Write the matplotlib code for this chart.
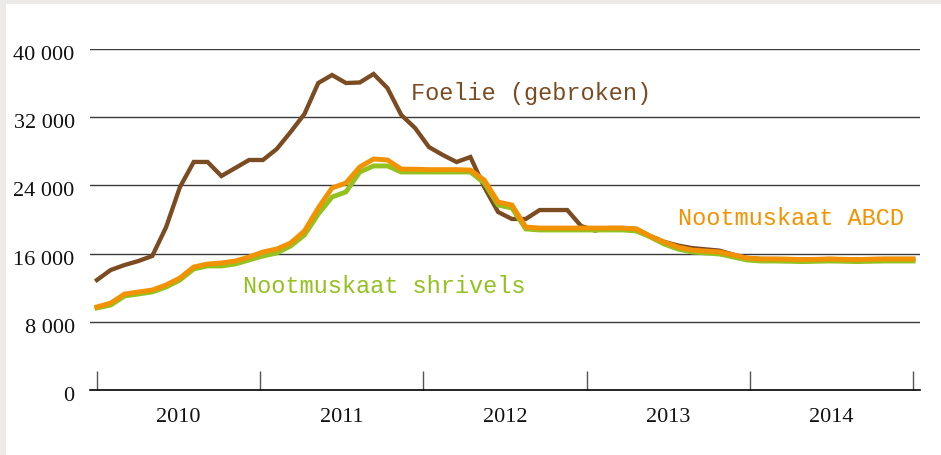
import matplotlib
matplotlib.use('Agg')
import matplotlib.pyplot as plt
import matplotlib.transforms as mtransforms
from matplotlib.patches import Rectangle


# ── palette ──────────────────────────────────────────────────────────────────

BG_OUTER = '#ebeae8'
C_BROWN  = '#7b4b22'
C_ORANGE = '#f39200'
C_GREEN  = '#94c11f'
C_GRID   = '#3a3a3a'
C_TEXT   = '#111111'


# ── data (monthly, Jan 2010 – Dec 2014) ─────────────────────────────────────

years = ['2010', '2011', '2012', '2013', '2014']
y_ticks = [0, 8000, 16000, 24000, 32000, 40000]
y_tick_labels = ['0', '8 000', '16 000', '24 000', '32 000', '40 000']

foelie = [
    12900, 14080, 14660, 15130, 15720, 19100, 23800, 26750, 26750, 25100,
    26040, 26980, 26980, 28270, 30260, 32370, 36010, 36950, 36010, 36070,
    37070, 35420, 32260, 30730, 28500, 27570, 26740, 27330, 23810, 20880,
    20060, 20060, 21110, 21110, 21110, 19240, 18700, 19000, 19000, 18890,
    18060, 17380, 16950, 16650, 16500, 16350, 15880, 15480, 15370, 15370,
    15350, 15300, 15330, 15370, 15330, 15300, 15350, 15370, 15370, 15370,
]

abcd = [
    9740, 10200, 11260, 11500, 11730, 12320, 13140, 14430, 14780, 14900,
    15130, 15600, 16190, 16540, 17240, 18650, 21350, 23700, 24280, 26160,
    27100, 26980, 25920, 25900, 25850, 25850, 25850, 25800, 24630, 22050,
    21700, 19120, 19000, 19000, 19000, 19000, 19000, 19000, 19000, 18890,
    18060, 17360, 16770, 16420, 16300, 16190, 15840, 15480, 15370, 15370,
    15350, 15300, 15330, 15370, 15330, 15300, 15350, 15370, 15370, 15370,
]

shrivels = [
    9620, 9970, 11030, 11260, 11500, 12080, 12900, 14200, 14550, 14550,
    14780, 15250, 15720, 16070, 16890, 18180, 20640, 22640, 23230, 25570,
    26280, 26280, 25570, 25570, 25570, 25570, 25570, 25570, 24280, 21700,
    21350, 18890, 18770, 18770, 18770, 18770, 18770, 18770, 18770, 18650,
    17950, 17120, 16540, 16190, 16070, 15950, 15600, 15250, 15130, 15130,
    15100, 15060, 15100, 15130, 15100, 15060, 15100, 15130, 15130, 15130,
]


# ── figure ───────────────────────────────────────────────────────────────────

fig = plt.figure(figsize=(9.41, 4.55), dpi=100, facecolor=BG_OUTER)
# white panel, leaving a thin grey strip on the left and top
panel = Rectangle((6 / 941, 0), 1, (455 - 4) / 455, transform=fig.transFigure,
                  facecolor='white', edgecolor='none', zorder=-10)
fig.add_artist(panel)

ax = fig.add_axes([90 / 941, 65 / 455, 830 / 941, 341 / 455])
ax.set_facecolor('none')
ax.set_zorder(5)

months = list(range(len(foelie)))
n = len(months) - 1

for v in y_ticks[1:]:
    ax.axhline(v, color=C_GRID, lw=1.0, zorder=1)

ax.plot(months, foelie, color=C_BROWN, lw=3.1, solid_joinstyle='miter', zorder=3)
ax.plot(months, shrivels, color=C_GREEN, lw=3.5, solid_joinstyle='miter', zorder=4)
ax.plot(months, abcd, color=C_ORANGE, lw=3.5, solid_joinstyle='miter', zorder=5)

ax.set_xlim(-0.5, n + 0.5)
ax.set_ylim(0, 40000)

for side in ('top', 'right', 'left'):
    ax.spines[side].set_visible(False)
ax.spines['bottom'].set_color('#000000')
ax.spines['bottom'].set_linewidth(1.2)

bounds = [k * n / len(years) for k in range(len(years) + 1)]
ax.set_xticks(bounds)
ax.set_xticklabels([])
ax.tick_params(axis='x', direction='in', length=14, width=1.0, color='#555555')

for k, yr in enumerate(years):
    ax.text((bounds[k] + bounds[k + 1]) / 2, -0.08, yr,
            transform=mtransforms.blended_transform_factory(ax.transData, ax.transAxes),
            ha='center', va='center', fontsize=16, family='Liberation Serif',
            color=C_TEXT)

ax.set_yticks(y_ticks)
ax.set_yticklabels(y_tick_labels, fontsize=16, family='Liberation Serif', color=C_TEXT)
ax.tick_params(axis='y', length=0, pad=11)
shift = mtransforms.ScaledTranslation(0, -4 / 100, fig.dpi_scale_trans)
for lab in ax.get_yticklabels():
    lab.set_transform(lab.get_transform() + shift)

# series labels
lab_kw = dict(family='Liberation Mono', fontsize=17, va='center', ha='left')
ax.text(22.7, 34800, 'Foelie (gebroken)', color=C_BROWN, **lab_kw)
ax.text(42.0, 20100, 'Nootmuskaat ABCD', color=C_ORANGE, **lab_kw)
ax.text(10.55, 12100, 'Nootmuskaat shrivels', color=C_GREEN, **lab_kw)

fig.savefig('out.png', dpi=100, facecolor=BG_OUTER)
